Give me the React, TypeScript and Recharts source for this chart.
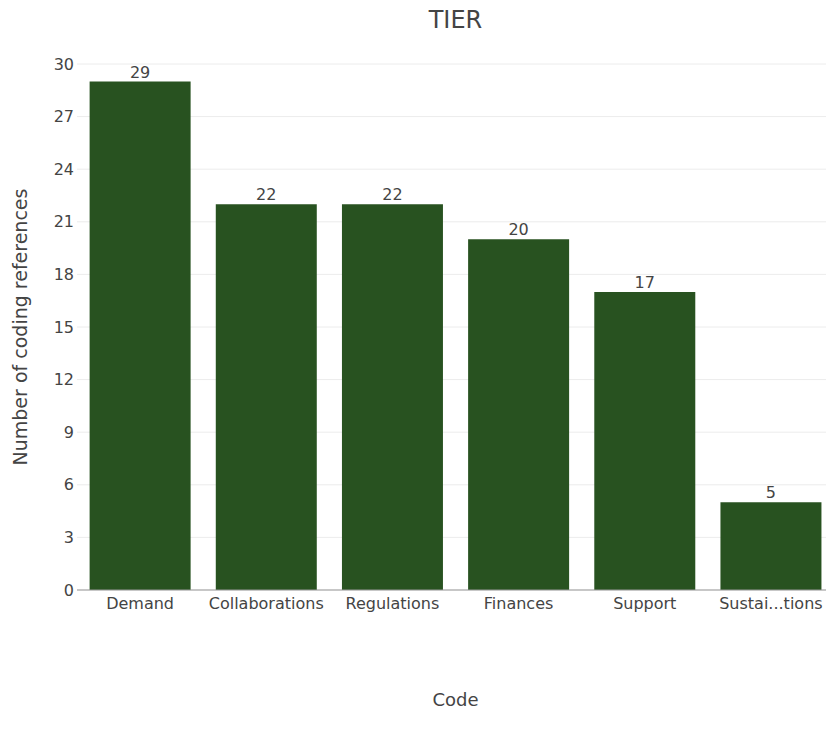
import { Bar, BarChart, CartesianGrid, Label, LabelList, XAxis, YAxis } from "recharts";

const categories = ["Demand", "Collaborations", "Regulations", "Finances", "Support", "Sustai...tions"];
const references = [29, 22, 22, 20, 17, 5];
const yTicks = [0, 3, 6, 9, 12, 15, 18, 21, 24, 27, 30];

const data = categories.map((code, i) => ({ code, count: references[i] }));

const font = "'DejaVu Sans', Verdana, sans-serif";
const textColor = "#444";

export default function App() {
  return (
    <div
      style={{
        position: "absolute",
        left: 0,
        top: 0,
        width: 826,
        height: 738,
        overflow: "hidden",
        background: "#fff",
        fontFamily: font,
      }}
    >
      <div
        style={{
          position: "absolute",
          left: 0,
          width: 911,
          top: 6,
          textAlign: "center",
          fontSize: 24,
          color: textColor,
        }}
      >
        TIER
      </div>
      <BarChart
        width={834}
        height={738}
        data={data}
        margin={{ top: 64, right: 0, bottom: 18, left: 0 }}
        barCategoryGap="10%"
      >
        <CartesianGrid vertical={false} stroke="#ececec" />
        <XAxis
          dataKey="code"
          height={130}
          interval={0}
          tickLine={false}
          axisLine={{ stroke: "#999" }}
          tick={{ fill: textColor, fontSize: 16, fontFamily: font }}
          tickMargin={2}
        >
          <Label
            value="Code"
            position="insideBottom"
            offset={14}
            style={{ fill: textColor, fontSize: 18, fontFamily: font }}
          />
        </XAxis>
        <YAxis
          width={77}
          domain={[0, 30]}
          ticks={yTicks}
          interval={0}
          tickLine={false}
          tickSize={0}
          axisLine={false}
          tick={{ fill: textColor, fontSize: 16, fontFamily: font }}
          tickMargin={3}
        >
          <Label
            value="Number of coding references"
            angle={-90}
            position="insideLeft"
            offset={20}
            style={{ fill: textColor, fontSize: 19, fontFamily: font, textAnchor: "middle" }}
          />
        </YAxis>
        <Bar dataKey="count" fill="#285220" isAnimationActive={false}>
          <LabelList
            dataKey="count"
            position="top"
            offset={4}
            style={{ fill: textColor, fontSize: 16, fontFamily: font }}
          />
        </Bar>
      </BarChart>
    </div>
  );
}
